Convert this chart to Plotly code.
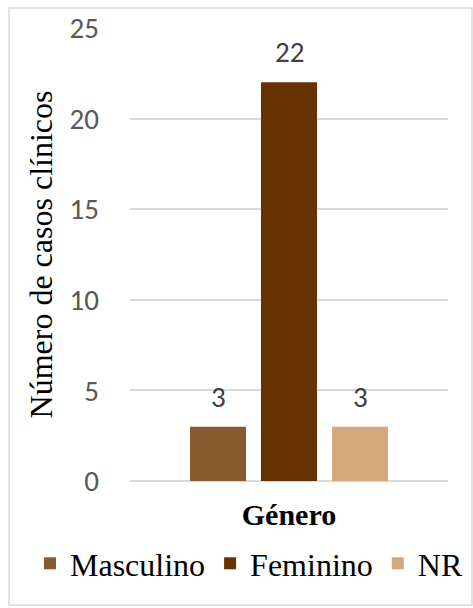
import plotly.graph_objects as go

# Clinical cases by gender
series = ["Masculino", "Feminino", "NR"]
casos = [3, 22, 3]
colores = ["#875A2F", "#663300", "#D4A87C"]
y_ticks = [0, 5, 10, 15, 20, 25]

W, H = 473, 608
L, R, T, B = 130, 25, 28, 127  # plot area margins in px
SERIF = "Liberation Serif"
SANS = "Carlito"

fig = go.Figure()
for i, (name, val, col) in enumerate(zip(series, casos, colores)):
    fig.add_trace(go.Bar(
        x=[i], y=[val], name=name, width=56 / 71,
        marker=dict(color=col, line=dict(width=0)),
    ))
    fig.add_annotation(
        x=i, y=val, text=str(val), showarrow=False,
        yshift=30, xanchor="center", yanchor="middle",
        font=dict(family=SANS, size=29, color="#404040"),
    )

plot_w = W - L - R
plot_h = H - T - B
span = plot_w / 71  # category units across the plot area
fig.update_layout(
    width=W, height=H,
    margin=dict(l=L, r=R, t=T, b=B, autoexpand=False),
    paper_bgcolor="white", plot_bgcolor="white",
    font=dict(family=SERIF),
    showlegend=True,
    legend=dict(
        orientation="h", x=(30 - L) / plot_w, xanchor="left",
        y=-(536 - (H - B)) / plot_h, yanchor="top",
        font=dict(family=SERIF, size=32, color="black"),
        itemwidth=30, tracegroupgap=0,
    ),
    xaxis=dict(
        range=[1 - span / 2, 1 + span / 2],
        showticklabels=False, showgrid=False, zeroline=False, ticks="",
        title=dict(text="<b>Género</b>", standoff=22,
                   font=dict(family=SERIF, size=30, color="black")),
    ),
    yaxis=dict(
        range=[0, 25], tickvals=y_ticks, showgrid=True,
        gridcolor="#D9D9D9", gridwidth=1.5,
        zeroline=True, zerolinecolor="#D9D9D9", zerolinewidth=1.5,
        ticks="", ticklabelstandoff=30,
        tickfont=dict(family=SANS, size=29, color="#595959"),
        title=dict(text="Número de casos clínicos", standoff=7,
                   font=dict(family=SERIF, size=32, color="black")),
    ),
    shapes=[dict(
        type="rect", xref="paper", yref="paper",
        x0=(9 - L) / plot_w, x1=(W - 1 - L) / plot_w,
        y0=-(H - 3 - T - plot_h) / plot_h, y1=1 + (T - 8) / plot_h,
        line=dict(color="#D9D9D9", width=1.5), fillcolor="rgba(0,0,0,0)",
        layer="below",
    )],
)

fig.write_html("out.html")
